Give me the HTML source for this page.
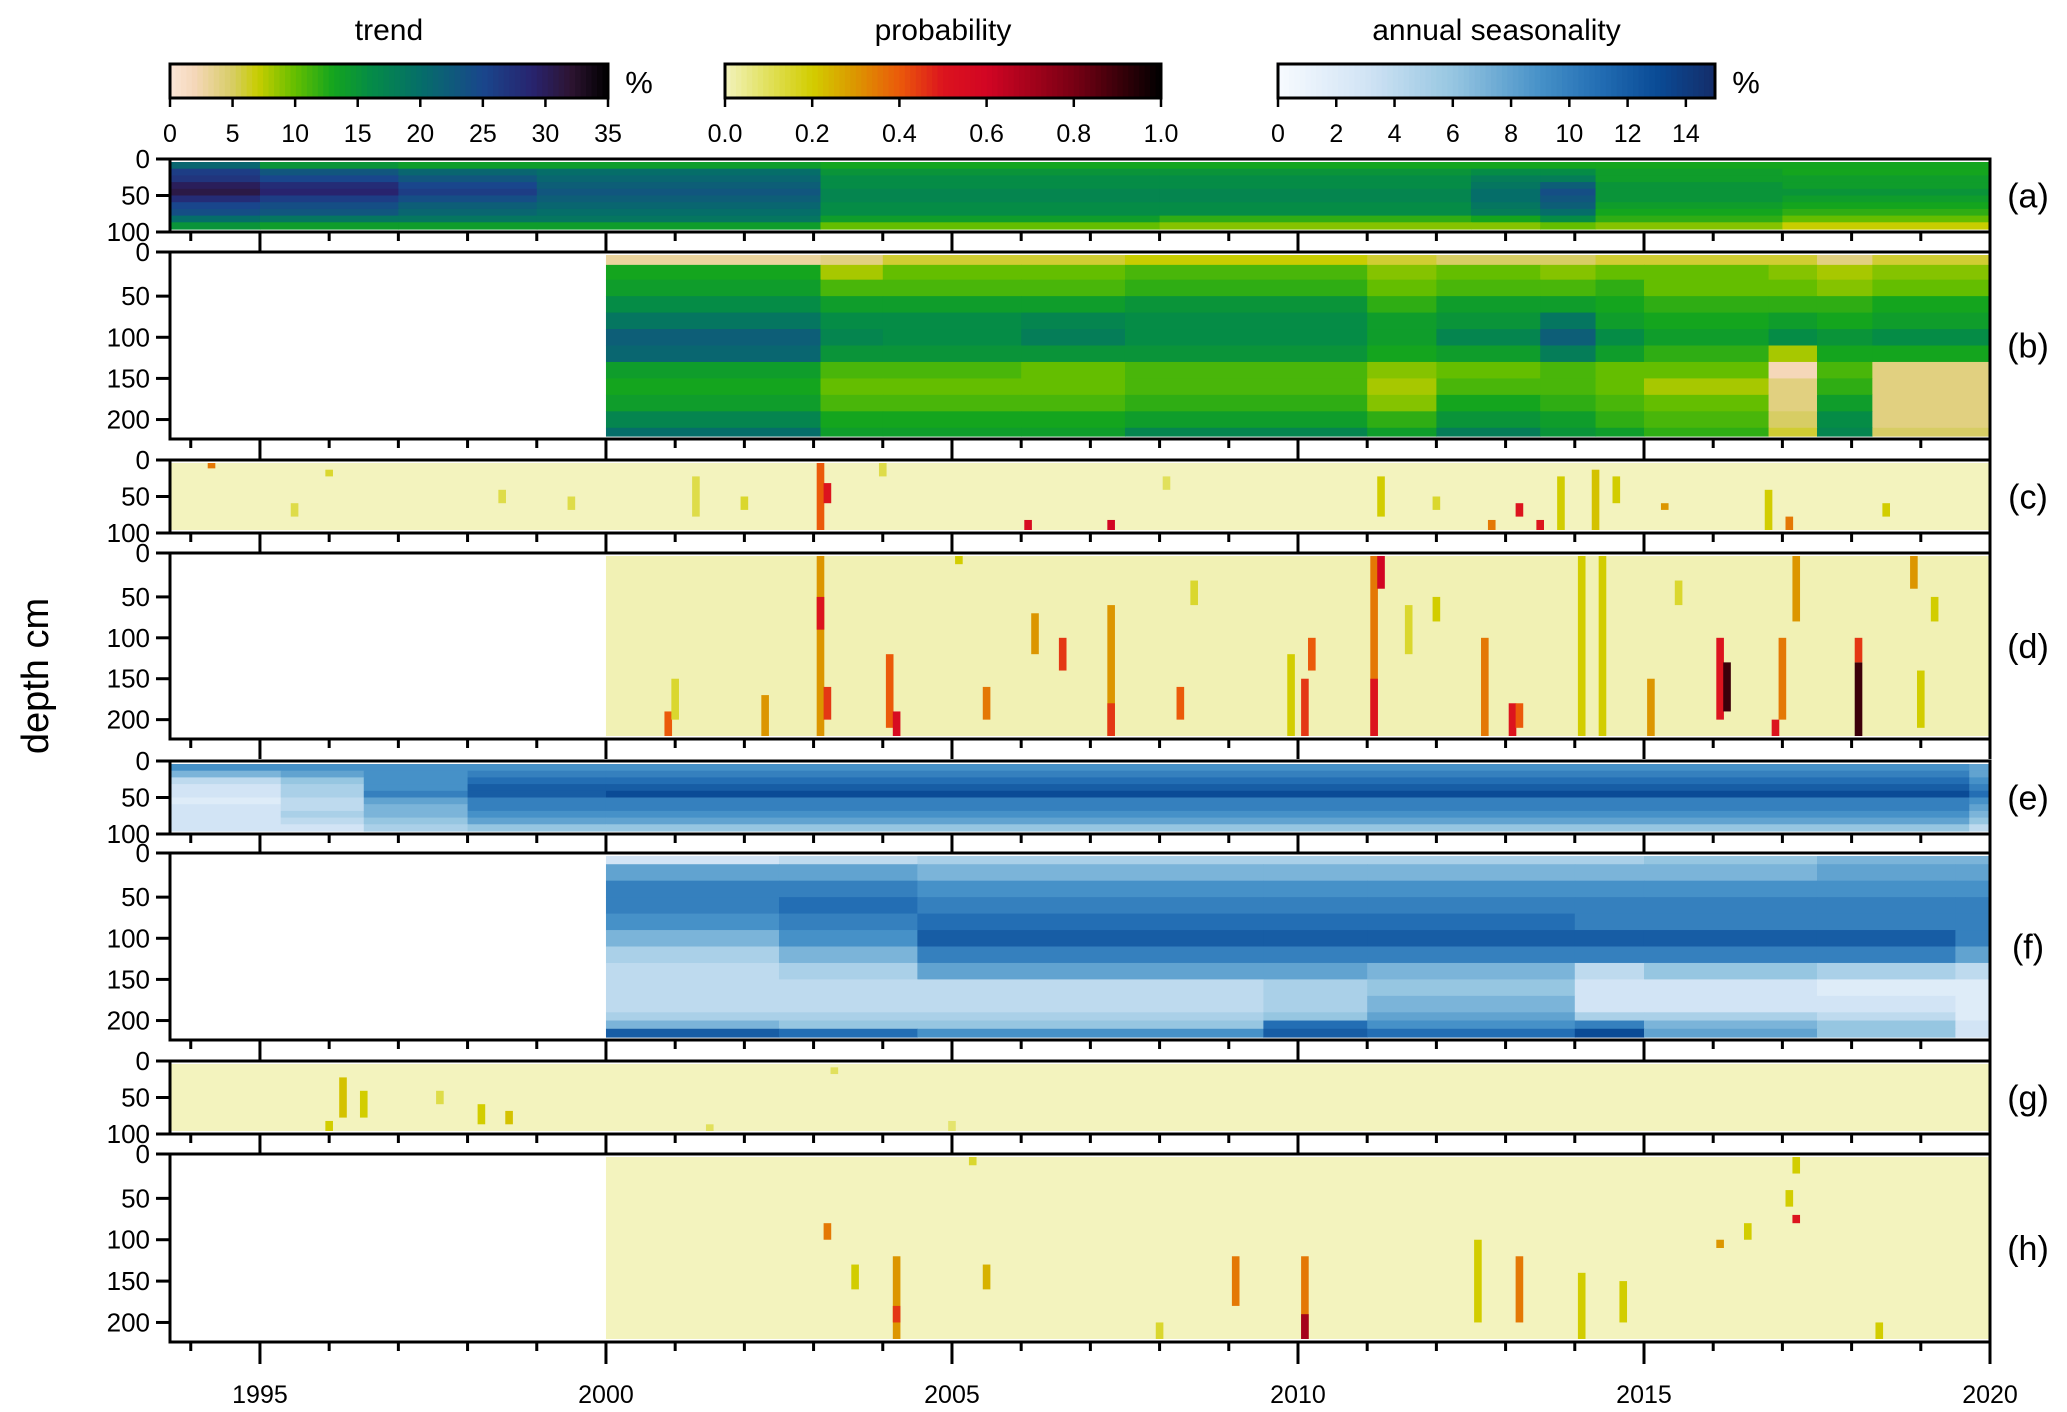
<!DOCTYPE html>
<html><head><meta charset="utf-8">
<style>
html,body{margin:0;padding:0;background:#fff;}
svg{display:block;font-family:"Liberation Sans",sans-serif;}
</style></head>
<body>
<svg id="chart" width="2067" height="1412" viewBox="0 0 2067 1412" xmlns="http://www.w3.org/2000/svg"></svg>
<script>
// ---------- DATA ----------
const yearTickLabels = [1995, 2000, 2005, 2010, 2015, 2020];
const trendTicks = [0,5,10,15,20,25,30,35];
const probTicks = [0.0,0.2,0.4,0.6,0.8,1.0];
const seasTicks = [0,2,4,6,8,10,12,14];

const trendA_breaks = [1993.7,1995,1997,1999,2003.1,2008,2012.5,2013.5,2014.3,2017,2020];
const trendA_depths = [0,10,20,30,40,50,60,70,80,90,100];
const trendA_values = [
 [21,15,14,14,13,13,13,13,13,13],
 [26,23,21,20,15,15,16,16,14,13],
 [27,25,23,21,16,16,18,18,14,14],
 [30,28,25,22,16,16,19,22,15,14],
 [31,29,26,23,17,17,20,24,15,15],
 [28,26,24,22,17,17,20,23,15,14],
 [25,24,22,21,16,16,19,22,14,13],
 [24,23,21,20,16,16,18,20,13,12],
 [20,19,19,19,14,12,13,16,12,10],
 [15,14,14,14,10,9,9,10,9,7]];
const trendB_breaks = [2000,2003.1,2004,2006,2007.5,2011,2012,2013.5,2014.3,2015,2016.8,2017.5,2018.3,2020];
const trendB_depths = [0,12,30,50,70,90,110,130,150,170,190,210,220];
const trendB_values = [
 [3,4,6,6,7,6,5,5,6,6,6,4,6],
 [13,8,10,10,11,9,10,9,10,10,9,8,9],
 [14,11,11,11,12,10,11,11,12,10,10,9,10],
 [16,14,14,14,15,12,14,14,13,12,12,12,13],
 [19,16,16,17,16,14,15,19,14,13,14,13,14],
 [22,17,16,18,16,14,17,22,16,14,16,15,16],
 [21,15,15,15,15,13,14,18,14,12,8,13,13],
 [14,11,11,10,11,9,10,11,10,10,2,11,4],
 [13,10,10,10,11,8,11,11,10,8,4,12,4],
 [14,11,11,11,12,9,13,12,11,10,4,14,4],
 [17,13,13,13,14,12,15,14,12,11,5,16,4],
 [20,14,14,14,17,14,18,15,14,12,6,17,5]];
const seasE_breaks = [1993.7,1995.3,1996.5,1998,2000,2019.7,2020];
const seasE_depths = [0,10,20,30,40,50,60,70,80,90,100];
const seasE_values = [
 [9,9,9,9,9,8],[7,8,9,10,10,8],[4,6,9,11,11,9],[3,5,9,12,12,10],[3,5,10,12,13,11],
 [2,4,8,10,10,9],[3,4,7,10,10,8],[3,5,7,9,9,7],[3,4,6,8,8,6],[3,3,5,6,6,4]];
const seasF_breaks = [2000,2002.5,2004.5,2009.5,2011,2014,2015,2017.5,2019.5,2020];
const seasF_depths = [0,10,30,50,70,90,110,130,150,170,190,200,210,220];
const seasF_values = [
 [3,4,5,5,5,5,6,7,7],[8,8,7,7,7,7,7,8,8],[10,10,9,9,9,9,9,9,9],[10,11,10,10,10,10,10,10,10],
 [9,10,11,11,11,10,10,10,10],[7,9,12,12,12,12,12,12,10],[5,7,10,10,10,10,10,10,8],
 [4,5,8,8,7,4,6,5,4],[4,4,4,5,6,3,3,2,2],[4,4,4,5,7,3,3,3,2],[5,5,5,6,8,5,5,4,2],
 [7,6,6,11,9,10,7,6,3],[12,11,9,12,11,13,8,6,3]];
const probC_streaks = [[2003.1,0,100,0.4],[2003.2,30,60,0.5],[1994.3,0,8,0.35],[2006.1,85,100,0.55],[2007.3,85,100,0.6],[2011.2,20,80,0.2],[2013.2,60,80,0.5],[2013.5,85,100,0.5],[2013.8,20,100,0.2],[2014.3,10,100,0.22],[2014.6,20,60,0.2],[2012,50,70,0.15],[2015.3,60,70,0.3],[2016.8,40,100,0.2],[2017.1,80,100,0.35],[2018.5,60,80,0.2],[2002,50,70,0.15],[2001.3,20,80,0.12],[1996,10,20,0.15],[2012.8,85,100,0.35],[2004,0,20,0.12],[1998.5,40,60,0.12],[2008.1,20,40,0.1],[1995.5,60,80,0.12],[1999.5,50,70,0.12]];
const probD_streaks = [[2003.1,0,220,0.3],[2003.1,50,90,0.5],[2003.2,160,200,0.45],[2004.1,120,210,0.4],[2004.2,190,220,0.55],[2002.3,170,220,0.3],[2005.5,160,200,0.35],[2006.2,70,120,0.3],[2006.6,100,140,0.45],[2007.3,60,220,0.3],[2007.3,180,220,0.45],[2008.3,160,200,0.4],[2011.1,0,220,0.35],[2011.2,0,40,0.6],[2011.1,150,220,0.5],[2010.1,150,220,0.45],[2012.7,100,220,0.35],[2013.1,180,220,0.5],[2013.2,180,210,0.4],[2014.1,0,220,0.2],[2014.4,0,220,0.2],[2015.1,150,220,0.3],[2016.1,100,200,0.5],[2016.2,130,190,0.9],[2017,100,200,0.35],[2016.9,200,220,0.5],[2017.2,0,80,0.3],[2018.1,130,220,0.9],[2018.1,100,130,0.45],[2019,140,210,0.2],[2018.9,0,40,0.3],[2000.9,190,220,0.4],[2001,150,200,0.15],[2009.9,120,220,0.2],[2010.2,100,140,0.4],[2005.1,0,10,0.2],[2008.5,30,60,0.15],[2011.6,60,120,0.15],[2012,50,80,0.2],[2015.5,30,60,0.15],[2019.2,50,80,0.2]];
const probG_streaks = [[1996.2,20,80,0.22],[1996.5,40,80,0.2],[1996,85,100,0.2],[1998.2,60,90,0.2],[1998.6,70,90,0.22],[1997.6,40,60,0.12],[2001.5,90,100,0.1],[2005,85,100,0.08],[2003.3,5,15,0.1]];
const probH_streaks = [[2004.2,120,220,0.3],[2004.2,180,200,0.45],[2003.2,80,100,0.35],[2003.6,130,160,0.2],[2005.3,0,10,0.15],[2009.1,120,180,0.35],[2010.1,120,220,0.35],[2010.1,190,220,0.7],[2012.6,100,200,0.2],[2013.2,120,200,0.35],[2014.1,140,220,0.2],[2016.1,100,110,0.3],[2017.2,0,20,0.2],[2017.2,70,80,0.5],[2017.1,40,60,0.2],[2016.5,80,100,0.2],[2005.5,130,160,0.25],[2008,200,220,0.15],[2014.7,150,200,0.2],[2018.4,200,220,0.2]];

// ---------- LAYOUT ----------
const NS = "http://www.w3.org/2000/svg";
const svg = document.getElementById('chart');
const X0 = 170, X1 = 1990, Y0yr = 1993.7, Y1yr = 2020;
function xs(yr){ return X0 + (yr - Y0yr) / (Y1yr - Y0yr) * (X1 - X0); }
function mk(tag, attrs, parent){ const e = document.createElementNS(NS, tag); for (const k in attrs) e.setAttribute(k, attrs[k]); (parent||svg).appendChild(e); return e; }

function lerpStops(stops, v){
  if (v <= stops[0][0]) return stops[0][1];
  for (let i=1;i<stops.length;i++){
    if (v <= stops[i][0]){
      const t=(v-stops[i-1][0])/(stops[i][0]-stops[i-1][0]);
      const a=stops[i-1][1], b=stops[i][1];
      return a.map((c,j)=>Math.round(c+(b[j]-c)*t));
    }
  }
  return stops[stops.length-1][1];
}
const trendStops=[[0,[251,230,215]],[2,[245,215,185]],[5,[215,205,100]],[7,[200,205,0]],[10,[100,190,0]],[13,[20,165,30]],[16,[5,140,70]],[20,[5,110,105]],[25,[25,70,140]],[29,[40,35,110]],[32,[45,20,50]],[35,[0,0,0]]];
const probStops=[[0,[243,243,190]],[0.08,[228,228,110]],[0.2,[210,205,0]],[0.3,[220,150,0]],[0.4,[235,90,10]],[0.5,[220,20,30]],[0.6,[210,5,35]],[0.8,[120,0,20]],[1,[0,0,0]]];
const seasStops=[[0,[247,251,255]],[3,[210,228,245]],[6,[150,198,225]],[9,[70,145,200]],[11,[35,110,180]],[13,[10,75,150]],[15,[20,45,105]]];
const rgb=c=>`rgb(${c[0]},${c[1]},${c[2]})`;

const panels = [
 {id:'a', top:159, bot:232, dmax:100, ticks:[0,50,100]},
 {id:'b', top:252, bot:439, dmax:220, ticks:[0,50,100,150,200]},
 {id:'c', top:460, bot:533, dmax:100, ticks:[0,50,100]},
 {id:'d', top:553, bot:739, dmax:220, ticks:[0,50,100,150,200]},
 {id:'e', top:761, bot:834, dmax:100, ticks:[0,50,100]},
 {id:'f', top:853, bot:1040, dmax:220, ticks:[0,50,100,150,200]},
 {id:'g', top:1061, bot:1134, dmax:100, ticks:[0,50,100]},
 {id:'h', top:1154, bot:1342, dmax:220, ticks:[0,50,100,150,200]}];

function ys(p, d){ return p.top + 3 + d/p.dmax*(p.bot - p.top - 6); }

function drawGrid(p, breaks, depths, values, stops, name){
  const g = mk('g', {});
  
  
  for (let r=0;r<values.length;r++) for (let c=0;c<values[r].length;c++){
    const x=xs(breaks[c]), w=xs(breaks[c+1])-x, y=ys(p,depths[r]), h=ys(p,depths[r+1])-y;
    const e = mk('rect',{x:x, y:y, width:w+0.6, height:h+0.6, fill:rgb(lerpStops(stops, values[r][c]))}, g);
    
    
  }
}
function drawProb(p, y0, y1, streaks, bg, name){
  const g = mk('g', {});
  
  
  mk('rect',{x:xs(y0), y:ys(p,0), width:xs(y1)-xs(y0), height:ys(p,p.dmax)-ys(p,0), fill:rgb(lerpStops(probStops,bg))}, g);
  for (const s of streaks){
    const x=xs(s[0]-0.055), w=xs(s[0]+0.055)-x, y=ys(p,s[1]), h=ys(p,s[2])-y;
    const e = mk('rect',{x:x,y:y,width:w,height:h,fill:rgb(lerpStops(probStops,s[3]))}, g);
    
    
  }
}

const P = Object.fromEntries(panels.map(p=>[p.id,p]));
drawGrid(P.a, trendA_breaks, trendA_depths, trendA_values, trendStops, 'trend-a');
drawGrid(P.b, trendB_breaks, trendB_depths, trendB_values, trendStops, 'trend-b');
drawProb(P.c, 1993.7, 2020, probC_streaks, 0, 'probability-c');
drawProb(P.d, 2000, 2020, probD_streaks, 0.01, 'probability-d');
drawGrid(P.e, seasE_breaks, seasE_depths, seasE_values, seasStops, 'seasonality-e');
drawGrid(P.f, seasF_breaks, seasF_depths, seasF_values, seasStops, 'seasonality-f');
drawProb(P.g, 1993.7, 2020, probG_streaks, 0, 'probability-g');
drawProb(P.h, 2000, 2020, probH_streaks, 0, 'probability-h');

for (const p of panels){
  const fr = mk('rect',{x:X0, y:p.top, width:X1-X0, height:p.bot-p.top, fill:'none', stroke:'#000', 'stroke-width':3});
  
  
  for (const t of p.ticks){
    const y = t===0 ? p.top : (t===p.dmax? p.bot : ys(p,t));
    mk('line',{x1:X0-14,x2:X0,y1:y,y2:y,stroke:'#000','stroke-width':3});
    const tx = mk('text',{x:X0-20,y:y+9,'text-anchor':'end','font-size':26});
    tx.textContent = t;
    
    
  }
  for (let yr=1994; yr<=2020; yr++){
    const major = yr%5===0;
    mk('line',{x1:xs(yr),x2:xs(yr),y1:p.bot,y2:p.bot+(major?(p.id==='h'?22:20):9),stroke:'#000','stroke-width':3});
  }
  const lab = mk('text',{x:2028,y:(p.top+p.bot)/2+12,'text-anchor':'middle','font-size':34});
  lab.textContent='('+p.id+')';
  
  
}
for (const yr of yearTickLabels){
  const t = mk('text',{x:xs(yr),y:1403,'text-anchor':'middle','font-size':25});
  t.textContent = yr;
  
  
}
const yl = mk('text',{x:48,y:676,'text-anchor':'middle','font-size':38,transform:'rotate(-90 48 676)'});
yl.textContent='depth cm';



function colorbar(x0, x1, vmin, vmax, stops, ticks, title, unit, fmt, name){
  const g = mk('g',{});
  
  
  const n=80;
  for (let i=0;i<n;i++){
    const v=vmin+(i+0.5)/n*(vmax-vmin);
    mk('rect',{x:x0+i*(x1-x0)/n,y:64,width:(x1-x0)/n+0.7,height:34,fill:rgb(lerpStops(stops,v))},g);
  }
  mk('rect',{x:x0,y:64,width:x1-x0,height:34,fill:'none',stroke:'#000','stroke-width':3},g);
  for (const t of ticks){
    const x = x0+(t-vmin)/(vmax-vmin)*(x1-x0);
    mk('line',{x1:x,x2:x,y1:98,y2:107,stroke:'#000','stroke-width':2.5},g);
    const tx = mk('text',{x:x,y:142,'text-anchor':'middle','font-size':25},g);
    tx.textContent = fmt(t);
  }
  const tt = mk('text',{x:(x0+x1)/2,y:40,'text-anchor':'middle','font-size':30},g);
  tt.textContent = title;
  if (unit){ const u = mk('text',{x:x1+31,y:93,'text-anchor':'middle','font-size':31},g); u.textContent=unit; }
}
colorbar(170, 608, 0, 35, trendStops, trendTicks, 'trend', '%', t=>String(t), 'trend');
colorbar(725, 1161, 0, 1, probStops, probTicks, 'probability', '', t=>t.toFixed(1), 'probability');
colorbar(1278, 1715, 0, 15, seasStops, seasTicks, 'annual seasonality', '%', t=>String(t), 'seasonality');
</script>
</body></html>
